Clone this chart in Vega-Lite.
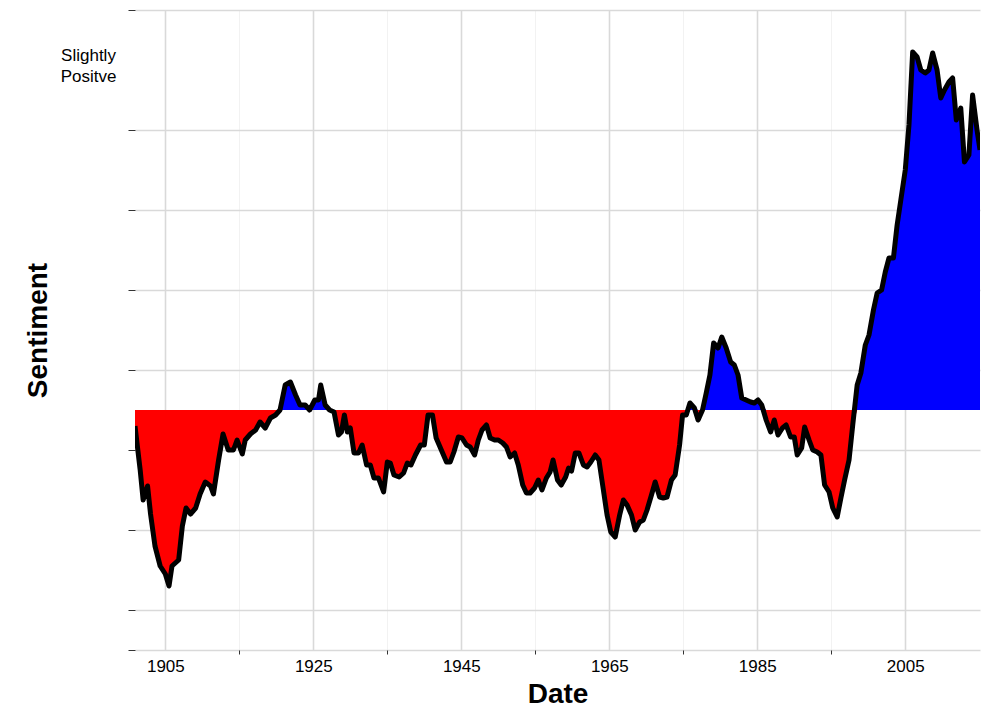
{
  "$schema": "https://vega.github.io/schema/vega-lite/v6.json",
  "width": 845,
  "height": 640,
  "autosize": {"type": "none"},
  "padding": {"left": 135, "top": 10, "right": 16, "bottom": 68},
  "background": "white",
  "config": {
    "view": {"stroke": null},
    "font": "Liberation Sans",
    "axis": {"labelFont": "Liberation Sans", "titleFont": "Liberation Sans", "labelColor": "black", "labelFontSize": 17, "titleFontSize": 28, "titleFontWeight": "bold", "titleColor": "black", "domain": false, "labelOverlap": false}
  },
  "data": {
    "values": [
      {"year": 1900.9, "v": -0.04}, {"year": 1901.6, "v": -0.15}, {"year": 1902.0, "v": -0.225}, {"year": 1902.6, "v": -0.19},
      {"year": 1903.0, "v": -0.26}, {"year": 1903.6, "v": -0.34}, {"year": 1904.3, "v": -0.39}, {"year": 1905.0, "v": -0.41},
      {"year": 1905.5, "v": -0.44}, {"year": 1905.9, "v": -0.39}, {"year": 1906.8, "v": -0.375}, {"year": 1907.3, "v": -0.29},
      {"year": 1907.8, "v": -0.245}, {"year": 1908.4, "v": -0.26}, {"year": 1909.1, "v": -0.245}, {"year": 1909.7, "v": -0.21},
      {"year": 1910.4, "v": -0.18}, {"year": 1911.1, "v": -0.19}, {"year": 1911.5, "v": -0.21}, {"year": 1912.2, "v": -0.125},
      {"year": 1912.8, "v": -0.06}, {"year": 1913.5, "v": -0.1}, {"year": 1914.2, "v": -0.1}, {"year": 1914.7, "v": -0.075},
      {"year": 1915.4, "v": -0.11}, {"year": 1915.8, "v": -0.075}, {"year": 1916.5, "v": -0.06}, {"year": 1917.2, "v": -0.05},
      {"year": 1917.8, "v": -0.03}, {"year": 1918.5, "v": -0.045}, {"year": 1919.2, "v": -0.02}, {"year": 1919.9, "v": -0.0125},
      {"year": 1920.5, "v": 0.0}, {"year": 1921.2, "v": 0.0625}, {"year": 1921.9, "v": 0.07}, {"year": 1922.6, "v": 0.0375},
      {"year": 1923.2, "v": 0.0125}, {"year": 1923.9, "v": 0.0125}, {"year": 1924.5, "v": 0.0}, {"year": 1925.2, "v": 0.025},
      {"year": 1925.7, "v": 0.025}, {"year": 1926.0, "v": 0.0625}, {"year": 1926.6, "v": 0.0125}, {"year": 1927.2, "v": 0.0},
      {"year": 1927.8, "v": -0.005}, {"year": 1928.4, "v": -0.0625}, {"year": 1928.8, "v": -0.055}, {"year": 1929.2, "v": -0.0125},
      {"year": 1929.6, "v": -0.055}, {"year": 1930.0, "v": -0.045}, {"year": 1930.5, "v": -0.1075}, {"year": 1931.1, "v": -0.1075},
      {"year": 1931.6, "v": -0.0875}, {"year": 1932.2, "v": -0.1375}, {"year": 1932.7, "v": -0.1375}, {"year": 1933.2, "v": -0.17},
      {"year": 1933.8, "v": -0.17}, {"year": 1934.5, "v": -0.205}, {"year": 1935.0, "v": -0.13}, {"year": 1935.4, "v": -0.1325},
      {"year": 1935.9, "v": -0.1625}, {"year": 1936.6, "v": -0.1675}, {"year": 1937.2, "v": -0.1575}, {"year": 1937.7, "v": -0.1325},
      {"year": 1938.2, "v": -0.1375}, {"year": 1938.8, "v": -0.1125}, {"year": 1939.5, "v": -0.0875}, {"year": 1940.0, "v": -0.0875},
      {"year": 1940.5, "v": -0.0125}, {"year": 1941.1, "v": -0.0125}, {"year": 1941.6, "v": -0.07}, {"year": 1942.3, "v": -0.1},
      {"year": 1943.0, "v": -0.13}, {"year": 1943.5, "v": -0.13}, {"year": 1944.0, "v": -0.105}, {"year": 1944.6, "v": -0.0675},
      {"year": 1945.1, "v": -0.07}, {"year": 1945.7, "v": -0.0875}, {"year": 1946.2, "v": -0.0925}, {"year": 1946.8, "v": -0.1125},
      {"year": 1947.3, "v": -0.075}, {"year": 1947.8, "v": -0.05}, {"year": 1948.4, "v": -0.0375}, {"year": 1948.9, "v": -0.07},
      {"year": 1949.5, "v": -0.075}, {"year": 1950.0, "v": -0.075}, {"year": 1950.6, "v": -0.0825}, {"year": 1951.1, "v": -0.0925},
      {"year": 1951.6, "v": -0.1175}, {"year": 1952.2, "v": -0.1075}, {"year": 1952.7, "v": -0.1375}, {"year": 1953.3, "v": -0.1875},
      {"year": 1953.8, "v": -0.2075}, {"year": 1954.3, "v": -0.2075}, {"year": 1954.9, "v": -0.195}, {"year": 1955.4, "v": -0.175},
      {"year": 1955.9, "v": -0.2}, {"year": 1956.5, "v": -0.17}, {"year": 1957.0, "v": -0.155}, {"year": 1957.4, "v": -0.125},
      {"year": 1958.0, "v": -0.175}, {"year": 1958.5, "v": -0.1875}, {"year": 1959.1, "v": -0.1675}, {"year": 1959.5, "v": -0.145},
      {"year": 1959.9, "v": -0.1525}, {"year": 1960.4, "v": -0.1075}, {"year": 1960.9, "v": -0.1075}, {"year": 1961.5, "v": -0.1375},
      {"year": 1962.0, "v": -0.1425}, {"year": 1962.5, "v": -0.13}, {"year": 1963.1, "v": -0.1125}, {"year": 1963.6, "v": -0.125},
      {"year": 1964.2, "v": -0.2}, {"year": 1964.7, "v": -0.2625}, {"year": 1965.2, "v": -0.305}, {"year": 1965.8, "v": -0.3175},
      {"year": 1966.4, "v": -0.2625}, {"year": 1966.9, "v": -0.225}, {"year": 1967.4, "v": -0.2375}, {"year": 1968.0, "v": -0.2625},
      {"year": 1968.5, "v": -0.3}, {"year": 1969.1, "v": -0.28}, {"year": 1969.6, "v": -0.275}, {"year": 1970.1, "v": -0.25},
      {"year": 1970.7, "v": -0.2125}, {"year": 1971.2, "v": -0.18}, {"year": 1971.8, "v": -0.2175}, {"year": 1972.3, "v": -0.22},
      {"year": 1972.8, "v": -0.2175}, {"year": 1973.4, "v": -0.175}, {"year": 1973.9, "v": -0.1625}, {"year": 1974.5, "v": -0.0875},
      {"year": 1974.9, "v": -0.0125}, {"year": 1975.4, "v": -0.0125}, {"year": 1975.9, "v": 0.0175}, {"year": 1976.5, "v": 0.005},
      {"year": 1977.0, "v": -0.025}, {"year": 1977.6, "v": 0.0}, {"year": 1978.1, "v": 0.0425}, {"year": 1978.6, "v": 0.0875},
      {"year": 1979.1, "v": 0.1675}, {"year": 1979.7, "v": 0.155}, {"year": 1980.2, "v": 0.1825}, {"year": 1980.8, "v": 0.155},
      {"year": 1981.4, "v": 0.12}, {"year": 1981.9, "v": 0.1125}, {"year": 1982.4, "v": 0.0875}, {"year": 1982.9, "v": 0.03},
      {"year": 1983.5, "v": 0.025}, {"year": 1984.1, "v": 0.02}, {"year": 1984.6, "v": 0.0175}, {"year": 1985.1, "v": 0.025},
      {"year": 1985.6, "v": 0.0125}, {"year": 1986.2, "v": -0.025}, {"year": 1986.8, "v": -0.055}, {"year": 1987.3, "v": -0.025},
      {"year": 1987.8, "v": -0.0625}, {"year": 1988.4, "v": -0.045}, {"year": 1988.9, "v": -0.0375}, {"year": 1989.5, "v": -0.0675},
      {"year": 1990.0, "v": -0.0675}, {"year": 1990.4, "v": -0.1125}, {"year": 1991.0, "v": -0.095}, {"year": 1991.4, "v": -0.0425},
      {"year": 1992.0, "v": -0.075}, {"year": 1992.5, "v": -0.1}, {"year": 1993.1, "v": -0.105}, {"year": 1993.6, "v": -0.1125},
      {"year": 1994.1, "v": -0.1875}, {"year": 1994.7, "v": -0.205}, {"year": 1995.2, "v": -0.245}, {"year": 1995.8, "v": -0.2675},
      {"year": 1996.3, "v": -0.22}, {"year": 1996.8, "v": -0.175}, {"year": 1997.4, "v": -0.125}, {"year": 1997.9, "v": -0.0375},
      {"year": 1998.5, "v": 0.0625}, {"year": 1999.0, "v": 0.0925}, {"year": 1999.6, "v": 0.1625}, {"year": 2000.1, "v": 0.1875},
      {"year": 2000.7, "v": 0.25}, {"year": 2001.2, "v": 0.2925}, {"year": 2001.8, "v": 0.3}, {"year": 2002.3, "v": 0.345},
      {"year": 2002.8, "v": 0.38}, {"year": 2003.4, "v": 0.38}, {"year": 2003.9, "v": 0.4625}, {"year": 2004.4, "v": 0.525},
      {"year": 2005.0, "v": 0.6}, {"year": 2005.5, "v": 0.7125}, {"year": 2006.0, "v": 0.895}, {"year": 2006.6, "v": 0.8825},
      {"year": 2007.1, "v": 0.85}, {"year": 2007.7, "v": 0.8425}, {"year": 2008.2, "v": 0.85}, {"year": 2008.7, "v": 0.8925},
      {"year": 2009.3, "v": 0.85}, {"year": 2009.8, "v": 0.78}, {"year": 2010.3, "v": 0.8}, {"year": 2010.9, "v": 0.82},
      {"year": 2011.4, "v": 0.83}, {"year": 2011.9, "v": 0.725}, {"year": 2012.5, "v": 0.755}, {"year": 2013.0, "v": 0.62},
      {"year": 2013.6, "v": 0.6375}, {"year": 2014.1, "v": 0.7875}, {"year": 2014.7, "v": 0.7}, {"year": 2015.1, "v": 0.65}
    ]
  },
  "transform": [
    {"calculate": "min(datum.v, 0)", "as": "neg"},
    {"calculate": "max(datum.v, 0)", "as": "pos"}
  ],
  "encoding": {
    "x": {
      "field": "year", "type": "quantitative",
      "scale": {"domain": [1900.9, 2015.1], "nice": false, "zero": false},
      "axis": {
        "title": "Date", "titlePadding": 6,
        "values": [1905, 1915, 1925, 1935, 1945, 1955, 1965, 1975, 1985, 1995, 2005],
        "labelExpr": "datum.value % 20 == 5 ? datum.value : ''",
        "labelPadding": 4, "tickSize": 4,
        "tickColor": {"condition": {"test": "datum.value % 20 == 5", "value": "transparent"}, "value": "#333"},
        "grid": true,
        "gridColor": {"condition": {"test": "datum.value % 20 == 5", "value": "#d9d9d9"}, "value": "#efefef"},
        "gridWidth": {"condition": {"test": "datum.value % 20 == 5", "value": 1.6}, "value": 0.8}
      }
    }
  },
  "layer": [
    {
      "mark": {"type": "area", "color": "#ff0000", "clip": true},
      "encoding": {
        "y": {
          "field": "neg", "type": "quantitative",
          "scale": {"domain": [-0.6, 1.0], "nice": false},
          "axis": {
            "title": "Sentiment", "titlePadding": 8,
            "values": [-0.6, -0.5175, -0.5, -0.4, -0.3, -0.2, -0.1, 0, 0.1, 0.2, 0.3, 0.4, 0.5, 0.6, 0.7, 0.8, 0.8875, 0.9, 1.0],
            "labelExpr": "abs(datum.value - 0.8875) < 0.001 ? ['Slightly', 'Positve'] : abs(datum.value + 0.5175) < 0.001 ? ['Slightly', 'Negative'] : abs(datum.value) < 0.001 ? 'Neutral' : ''",
            "labelAlign": "center", "labelPadding": 40, "labelLineHeight": 21,
            "tickSize": 7,
            "tickColor": {"condition": {"test": "abs(datum.value - 0.8875) < 0.001 || abs(datum.value + 0.5175) < 0.001", "value": "transparent"}, "value": "#333"},
            "grid": true,
            "gridColor": {"condition": {"test": "abs(datum.value - 0.8875) < 0.001 || abs(datum.value + 0.5175) < 0.001", "value": "transparent"}, "value": "#d9d9d9"},
            "gridWidth": 1.6
          }
        },
        "y2": {"datum": 0}
      }
    },
    {
      "mark": {"type": "area", "color": "#0000ff", "clip": true},
      "encoding": {"y": {"field": "pos", "type": "quantitative"}, "y2": {"datum": 0}}
    },
    {
      "mark": {"type": "line", "color": "black", "strokeWidth": 5, "clip": true, "strokeJoin": "round"},
      "encoding": {"y": {"field": "v", "type": "quantitative"}}
    }
  ]
}
